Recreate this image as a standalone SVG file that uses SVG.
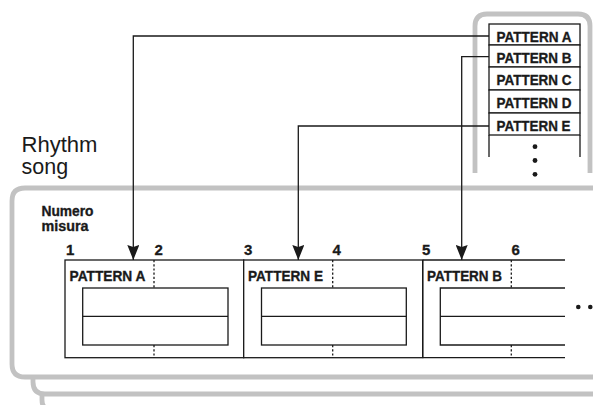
<svg xmlns="http://www.w3.org/2000/svg" width="593" height="405" viewBox="0 0 593 405">
<style>
.frame{fill:#fff;stroke:#c2c2c2;stroke-width:4.8}
.box{fill:#fff;stroke:#1a1a1a;stroke-width:1.3}
.ln{fill:none;stroke:#1a1a1a;stroke-width:1.3}
.dot{fill:none;stroke:#1a1a1a;stroke-width:1.3;stroke-dasharray:2.2 2}
.conn{fill:none;stroke:#1a1a1a;stroke-width:1.3;marker-end:url(#arr)}
.t{font-family:"Liberation Sans",Arial,sans-serif;font-weight:bold;font-size:15.5px;fill:#1a1a1a;stroke:#1a1a1a;stroke-width:0.35}
.num{font-family:"Liberation Sans",Arial,sans-serif;font-weight:bold;font-size:15px;fill:#1a1a1a;stroke:#1a1a1a;stroke-width:0.3}
.big{font-family:"Liberation Sans",Arial,sans-serif;font-size:21.5px;fill:#1a1a1a}
</style>
<defs>
<marker id="arr" markerWidth="15" markerHeight="12" viewBox="0 0 15 12" refX="15" refY="6" orient="auto" markerUnits="userSpaceOnUse">
<path d="M0 0 L2 6 L0 12 L15 6 Z" fill="#1a1a1a"/>
</marker>
</defs>

<!-- stacked song frames (background) -->
<g id="frame-stack">
<path class="frame" style="fill:none" d="M42 392 V400 Q42 410 52 410 H600"/>
<path class="frame" d="M33 360 V382 Q33 394 45 394 H600 V360 Z"/>
</g>

<!-- pattern list -->
<g id="pattern-list">
<path class="frame" d="M475 173 V26 Q475 14 487 14 H578 Q590 14 590 26 V173"/>
<rect class="box" x="489" y="24" width="91" height="21"/>
<rect class="box" x="489" y="45" width="91" height="22"/>
<rect class="box" x="489" y="67" width="91" height="23"/>
<rect class="box" x="489" y="90" width="91" height="23"/>
<rect class="box" x="489" y="113" width="91" height="22"/>
<path class="ln" d="M489 135 V157 M580 135 V157"/>
<text class="t" x="496.5" y="41.5" textLength="75" lengthAdjust="spacingAndGlyphs">PATTERN A</text>
<text class="t" x="496.5" y="62.5" textLength="75" lengthAdjust="spacingAndGlyphs">PATTERN B</text>
<text class="t" x="496.5" y="85" textLength="75" lengthAdjust="spacingAndGlyphs">PATTERN C</text>
<text class="t" x="496.5" y="108" textLength="75" lengthAdjust="spacingAndGlyphs">PATTERN D</text>
<text class="t" x="496.5" y="130.5" textLength="74" lengthAdjust="spacingAndGlyphs">PATTERN E</text>
<circle cx="535" cy="146.7" r="2.4" fill="#1a1a1a"/>
<circle cx="535" cy="160.5" r="2.4" fill="#1a1a1a"/>
<circle cx="535" cy="174.3" r="2.4" fill="#1a1a1a"/>
</g>

<!-- labels -->
<g id="title">
<text class="big" x="21.5" y="152" textLength="76" lengthAdjust="spacingAndGlyphs">Rhythm</text>
<text class="big" x="21.5" y="173.5">song</text>
</g>

<!-- song frame -->
<g id="song">
<path class="frame" d="M600 188 H25 Q12 188 12 201 V364 Q12 377 25 377 H600"/>
<text class="t" x="41.5" y="216" textLength="52" lengthAdjust="spacingAndGlyphs" style="font-size:14.5px">Numero</text>
<text class="t" x="41.5" y="231" textLength="47" lengthAdjust="spacingAndGlyphs" style="font-size:14.5px">misura</text>
</g>

<g id="measure-numbers">
<text class="num" x="66" y="254.5">1</text>
<text class="num" x="154.5" y="254.5">2</text>
<text class="num" x="244" y="254.5">3</text>
<text class="num" x="332.5" y="254.5">4</text>
<text class="num" x="422" y="254.5">5</text>
<text class="num" x="511.5" y="254.5">6</text>
</g>

<g id="cell1">
<rect class="box" x="65" y="260" width="178.7" height="97.7"/>
<rect class="box" x="82.7" y="288" width="145.3" height="57"/>
<path class="ln" d="M82.7 316.3 H228"/>
<path class="dot" d="M154 260 V288 M154 345 V358"/>
<text class="t" x="69.5" y="281" textLength="76" lengthAdjust="spacingAndGlyphs">PATTERN A</text>
</g>

<g id="cell2">
<rect class="box" x="243.7" y="260" width="179" height="97.7"/>
<rect class="box" x="261.5" y="288" width="144.8" height="57"/>
<path class="ln" d="M261.5 316.3 H406.3"/>
<path class="dot" d="M332.7 260 V288 M332.7 345 V358"/>
<text class="t" x="248" y="281" textLength="75" lengthAdjust="spacingAndGlyphs">PATTERN E</text>
</g>

<g id="cell3">
<path class="ln" d="M422.7 260 H565 M422.7 357.7 H565 M422.7 260 V357.7"/>
<path class="ln" d="M565 288 H440.3 V345 H565 M440.3 316.3 H565"/>
<path class="dot" d="M511.3 260 V288 M511.3 345 V358"/>
<text class="t" x="427" y="281" textLength="75" lengthAdjust="spacingAndGlyphs">PATTERN B</text>
</g>

<g id="more">
<circle cx="578.3" cy="307" r="2.3" fill="#1a1a1a"/>
<circle cx="590.3" cy="307" r="2.3" fill="#1a1a1a"/>
</g>

<g id="connectors">
<path class="conn" d="M489 36 H133.3 V260"/>
<path class="conn" d="M489 56.7 H461.7 V260"/>
<path class="conn" d="M489 126 H298.3 V260"/>
</g>
</svg>
